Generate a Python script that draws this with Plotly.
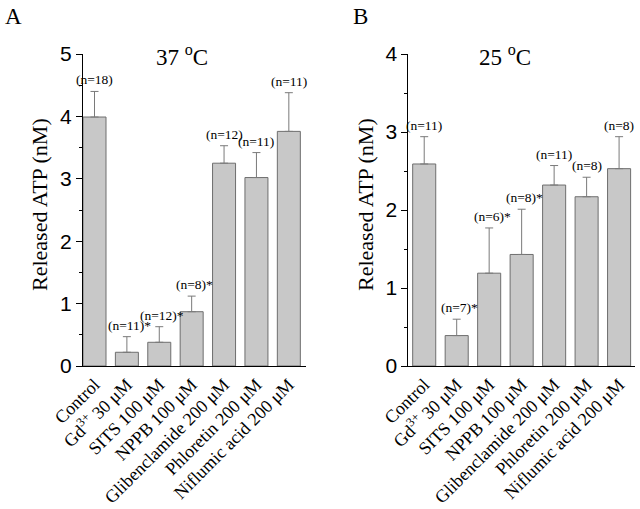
import plotly.graph_objects as go

categories = ["Control", "Gd<sup>3+</sup> 30 μM", "SITS 100 μM", "NPPB 100 μM",
              "Glibenclamide 200 μM", "Phloretin 200 μM", "Niflumic acid 200 μM"]

# Panel A (37 °C)
a_values = [3.99, 0.22, 0.38, 0.87, 3.25, 3.02, 3.76]
a_err_top = [4.40, 0.47, 0.63, 1.12, 3.53, 3.42, 4.38]
a_labels = ["(n=18)", "(n=11)*", "(n=12)*", "(n=8)*", "(n=12)", "(n=11)", "(n=11)"]

# Panel B (25 °C)
b_values = [2.59, 0.39, 1.19, 1.43, 2.32, 2.17, 2.53]
b_err_top = [2.94, 0.60, 1.77, 2.01, 2.57, 2.42, 2.94]
b_labels = ["(n=11)", "(n=7)*", "(n=6)*", "(n=8)*", "(n=11)", "(n=8)", "(n=8)"]

W, H = 640, 509
def px(x):
    return x / W
def py(y):
    return 1 - y / H

SERIF = "Liberation Serif, Times New Roman, serif"
SANS = "Liberation Sans, Arial, sans-serif"
BAR_FILL = "#c8c8c8"
BAR_LINE = "#6e6e6e"
ERR_COL = "#7a7a7a"

fig = go.Figure()
xs = list(range(len(categories)))

for vals, tops, xa, ya in [(a_values, a_err_top, "x", "y"), (b_values, b_err_top, "x2", "y2")]:
    fig.add_trace(go.Bar(
        x=xs, y=vals, xaxis=xa, yaxis=ya,
        marker=dict(color=BAR_FILL, line=dict(color=BAR_LINE, width=1)),
        error_y=dict(type="data", symmetric=False,
                     array=[t - v for t, v in zip(tops, vals)],
                     arrayminus=[0] * len(vals),
                     color=ERR_COL, thickness=1, width=4),
        width=0.71, showlegend=False, hoverinfo="skip"))

ydom = [py(366), py(54)]
common_x = dict(tickmode="array", tickvals=xs, ticktext=categories, tickangle=-45,
                tickfont=dict(family=SERIF, size=18, color="black"),
                showline=True, linecolor="black", linewidth=1, ticks="",
                showgrid=False, zeroline=False, fixedrange=True, automargin=False)
common_y = dict(showline=True, linecolor="black", linewidth=1, ticks="outside",
                ticklen=6, tickcolor="black", dtick=1,
                tickfont=dict(family=SANS, size=21, color="black"),
                minor=dict(ticks="outside", ticklen=3, dtick=0.5, tickcolor="black"),
                showgrid=False, zeroline=False, domain=ydom, fixedrange=True, automargin=False)

fig.update_layout(
    width=W, height=H, margin=dict(l=0, r=0, t=0, b=0, autoexpand=False),
    paper_bgcolor="white", plot_bgcolor="white",
    xaxis=dict(domain=[px(83), px(306)], range=[-0.355, 6.53], anchor="y", **common_x),
    yaxis=dict(range=[0, 5], anchor="x", **common_y),
    xaxis2=dict(domain=[px(408.3), px(635)], range=[-0.49, 6.49], anchor="y2", **common_x),
    yaxis2=dict(range=[0, 4], anchor="x2", **common_y),
)

ann = []
for labels, tops, xa, ya in [(a_labels, a_err_top, "x", "y"), (b_labels, b_err_top, "x2", "y2")]:
    for i, (lab, t) in enumerate(zip(labels, tops)):
        ann.append(dict(x=i, y=t, xref=xa, yref=ya, text=lab, showarrow=False,
                        xanchor="center", yanchor="bottom", yshift=2,
                        xshift=3 if lab.endswith("*") else 0,
                        font=dict(family=SERIF, size=13.5, color="black")))

# Panel letters, titles, y-axis titles
ann += [
    dict(x=px(3), y=py(2), xref="paper", yref="paper", text="A", showarrow=False,
         xanchor="left", yanchor="top", font=dict(family=SERIF, size=23, color="black")),
    dict(x=px(351), y=py(2), xref="paper", yref="paper", text="B", showarrow=False,
         xanchor="left", yanchor="top", font=dict(family=SERIF, size=23, color="black")),
    dict(x=px(182), y=py(55), xref="paper", yref="paper", text="37 <sup>o</sup>C", showarrow=False,
         xanchor="center", yanchor="middle", font=dict(family=SERIF, size=23, color="black")),
    dict(x=px(505), y=py(55), xref="paper", yref="paper", text="25 <sup>o</sup>C", showarrow=False,
         xanchor="center", yanchor="middle", font=dict(family=SERIF, size=23, color="black")),
    dict(x=px(40), y=py(205), xref="paper", yref="paper", text="Released ATP (nM)", showarrow=False,
         textangle=-90, xanchor="center", yanchor="middle", font=dict(family=SERIF, size=22, color="black")),
    dict(x=px(366), y=py(205), xref="paper", yref="paper", text="Released ATP (nM)", showarrow=False,
         textangle=-90, xanchor="center", yanchor="middle", font=dict(family=SERIF, size=22, color="black")),
]
fig.update_layout(annotations=ann)

fig.write_html("out.html", config={"displayModeBar": False},
               post_script="document.body.style.margin='0px';document.body.style.overflow='hidden';")
